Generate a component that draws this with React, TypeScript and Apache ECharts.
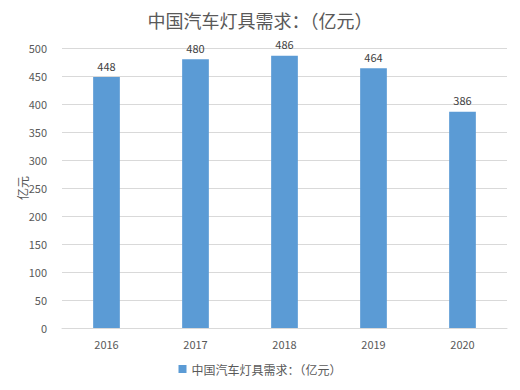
import React, { useEffect, useRef } from "react";
import * as echarts from "echarts";

const categories = ["2016", "2017", "2018", "2019", "2020"];
const values = [448, 480, 486, 464, 386];
const seriesName = "中国汽车灯具需求：（亿元）";
const titleText = "中国汽车灯具需求：（亿元）";
const yAxisName = "亿元";

export default function App() {
  const ref = useRef<HTMLDivElement>(null);
  useEffect(() => {
    document.body.style.margin = "0";
    if (!ref.current) return;
    const chart = echarts.init(ref.current, null, { renderer: "svg" });
    const font = '"Microsoft YaHei", "Noto Sans CJK SC", sans-serif';
    chart.setOption({
      animation: false,
      backgroundColor: "#ffffff",
      title: {
        text: titleText,
        left: "center",
        top: 6,
        textStyle: { fontSize: 18, fontWeight: "normal", color: "#595959", fontFamily: font },
      },
      legend: {
        bottom: 10,
        left: "center",
        itemWidth: 8,
        itemHeight: 8,
        icon: "rect",
        textStyle: { fontSize: 12, color: "#595959", fontFamily: font },
        data: [seriesName],
      },
      grid: { left: 62, right: 13, top: 48, bottom: 62, containLabel: false },
      xAxis: {
        type: "category",
        data: categories,
        axisTick: { show: false },
        axisLine: { lineStyle: { color: "#d9d9d9" } },
        axisLabel: { color: "#595959", fontSize: 11, margin: 10, fontFamily: font },
      },
      yAxis: {
        type: "value",
        min: 0,
        max: 500,
        interval: 50,
        name: yAxisName,
        nameLocation: "middle",
        nameGap: 34,
        nameMoveOverlap: false,
        nameRotate: 90,
        nameTextStyle: { color: "#595959", fontSize: 12, fontFamily: font },
        axisLine: { show: false },
        axisTick: { show: false },
        axisLabel: { color: "#595959", fontSize: 11, margin: 15, fontFamily: font },
        splitLine: { lineStyle: { color: "#d9d9d9" } },
      },
      series: [
        {
          name: seriesName,
          type: "bar",
          data: values,
          barWidth: "30%",
          itemStyle: { color: "#5b9bd5" },
          label: {
            show: true,
            position: "top",
            distance: 6,
            color: "#404040",
            fontSize: 11,
            fontFamily: font,
          },
        },
      ],
    });
    return () => chart.dispose();
  }, []);
  return <div ref={ref} style={{ width: 520, height: 390 }} />;
}
